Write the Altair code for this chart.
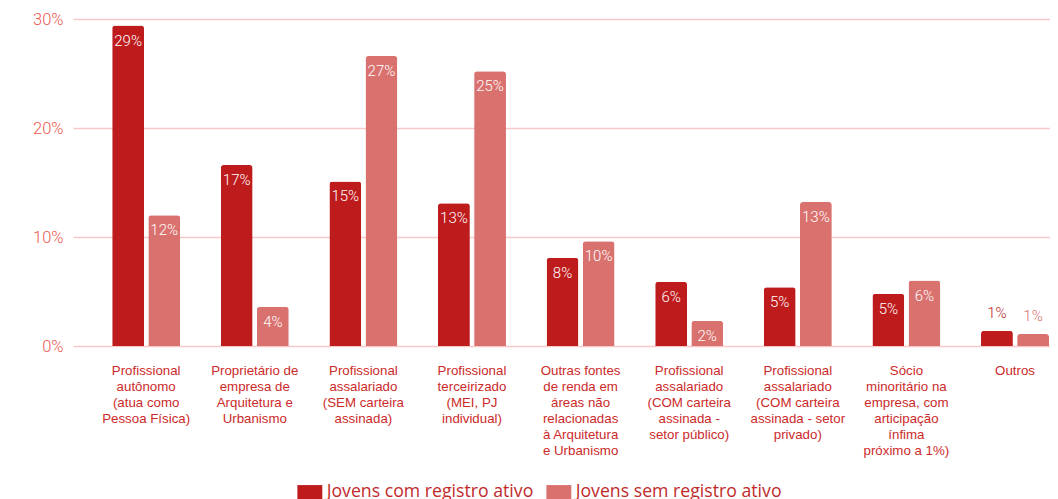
import altair as alt
import pandas as pd

categories = [
    "Profissional\nautônomo\n(atua como\nPessoa Física)",
    "Proprietário de\nempresa de\nArquitetura e\nUrbanismo",
    "Profissional\nassalariado\n(SEM carteira\nassinada)",
    "Profissional\nterceirizado\n(MEI, PJ\nindividual)",
    "Outras fontes\nde renda em\náreas não\nrelacionadas\nà Arquitetura\ne Urbanismo",
    "Profissional\nassalariado\n(COM carteira\nassinada -\nsetor público)",
    "Profissional\nassalariado\n(COM carteira\nassinada - setor\nprivado)",
    "Sócio\nminoritário na\nempresa, com\narticipação\nínfima\npróximo a 1%)",
    "Outros",
]
series_names = ["Jovens com registro ativo", "Jovens sem registro ativo"]
com_registro = [29.4, 16.6, 15.1, 13.1, 8.1, 5.9, 5.4, 4.8, 1.4]
sem_registro = [12.0, 3.6, 26.6, 25.2, 9.6, 2.3, 13.2, 6.0, 1.1]
colors = ["#be1b1d", "#d9716e"]

rows = []
for i, c in enumerate(categories):
    rows.append({"cat": c, "serie": series_names[0], "val": com_registro[i]})
    rows.append({"cat": c, "serie": series_names[1], "val": sem_registro[i]})
df = pd.DataFrame(rows)
df["lbl"] = df["val"].round().astype(int).astype(str) + "%"

x = alt.X("cat:N", sort=categories, title=None,
          scale=alt.Scale(paddingInner=0.374, paddingOuter=0.185, align=0.975),
          axis=alt.Axis(labelAngle=0, labelExpr="split(datum.value, '\\n')",
                        labelFont="Liberation Sans", labelFontSize=13.3,
                        labelColor="#cc2a2a", labelLineHeight=16, labelPadding=17,
                        labelBaseline="top",
                        domain=False, ticks=False, grid=False, labelLimit=200))
xoff = alt.XOffset("serie:N", sort=series_names,
                   scale=alt.Scale(paddingInner=0.118, paddingOuter=0))
y = alt.Y("val:Q", title=None,
          scale=alt.Scale(domain=[0, 30], nice=False),
          axis=alt.Axis(values=[0, 10, 20, 30], labelExpr="datum.value + '%'",
                        labelFont="Roboto", labelFontWeight=300, labelFontSize=16.5,
                        labelColor="#ec5a50", labelPadding=10,
                        domain=False, ticks=False, gridColor="#f6c8c8", gridWidth=1.3))
color = alt.Color("serie:N", sort=series_names,
                  scale=alt.Scale(domain=series_names, range=colors),
                  legend=alt.Legend(title=None, orient="none", direction="horizontal",
                                    legendX=228, legendY=464, padding=0,
                                    symbolType="M-1.78,-1H1.78V1H-1.78Z", symbolSize=196,
                                    symbolOpacity=1, symbolStrokeWidth=0,
                                    labelFont="Open Sans", labelFontSize=17.7,
                                    labelColor="#c02a2a", labelOffset=8,
                                    columnPadding=12, labelLimit=400))

base = alt.Chart(df)
bars = base.mark_bar(cornerRadiusTopLeft=3, cornerRadiusTopRight=3).encode(
    x=x, xOffset=xoff, y=y, color=color)

inside = base.transform_filter("datum.val >= 2").mark_text(
    baseline="top", dy=8, font="Roboto", fontWeight=300, fontSize=15, color="white"
).encode(x=x, xOffset=xoff, y=y, text="lbl:N")

outside = base.transform_filter("datum.val < 2").mark_text(
    baseline="bottom", dy=-10, font="Roboto", fontWeight=300, fontSize=15
).encode(x=x, xOffset=xoff, y=y, text="lbl:N",
         color=alt.Color("serie:N", sort=series_names,
                         scale=alt.Scale(domain=series_names, range=colors), legend=None))

chart = alt.layer(bars, inside, outside).properties(
    width=977, height=327,
    autosize=alt.AutoSizeParams(type="none"),
    padding={"left": 65, "top": 11, "right": 0, "bottom": 155},
).configure_view(stroke=None)

chart.save("out.html", embed_options={"renderer": "svg", "actions": False})
